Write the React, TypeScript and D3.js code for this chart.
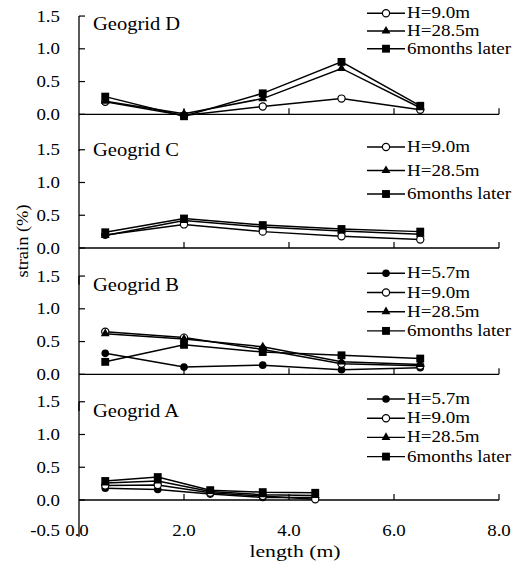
import * as d3 from "d3";

// series (legend order) and marker style
const seriesNames = ["H=5.7m", "H=9.0m", "H=28.5m", "6months later"];
const xTicks = [0, 2, 4, 6, 8];
const xTickLabels = ["0.0", "2.0", "4.0", "6.0", "8.0"];
const yTicks = [0, 0.5, 1.0, 1.5];

const lengthsA = [0.5, 1.5, 2.5, 3.5, 4.5];
const lengthsBCD = [0.5, 2.0, 3.5, 5.0, 6.5];

// Geogrid D
const dH90 = [0.19, -0.02, 0.12, 0.24, 0.07];
const dH285 = [0.2, 0.01, 0.24, 0.7, 0.1];
const d6m = [0.27, -0.03, 0.32, 0.8, 0.13];
// Geogrid C
const cH90 = [0.2, 0.36, 0.25, 0.18, 0.13];
const cH285 = [0.19, 0.42, 0.32, 0.26, 0.21];
const c6m = [0.24, 0.45, 0.35, 0.29, 0.25];
// Geogrid B
const bH57 = [0.32, 0.11, 0.14, 0.07, 0.1];
const bH90 = [0.65, 0.56, 0.38, 0.16, 0.13];
const bH285 = [0.62, 0.54, 0.42, 0.19, 0.15];
const b6m = [0.19, 0.45, 0.34, 0.29, 0.24];
// Geogrid A
const aH57 = [0.18, 0.16, 0.09, 0.04, 0.04];
const aH90 = [0.22, 0.23, 0.11, 0.06, 0.01];
const aH285 = [0.26, 0.29, 0.13, 0.08, 0.07];
const a6m = [0.29, 0.35, 0.15, 0.12, 0.11];

const panels = [
  { name: "Geogrid D", x: lengthsBCD, series: [null, dH90, dH285, d6m] },
  { name: "Geogrid C", x: lengthsBCD, series: [null, cH90, cH285, c6m] },
  { name: "Geogrid B", x: lengthsBCD, series: [bH57, bH90, bH285, b6m] },
  { name: "Geogrid A", x: lengthsA, series: [aH57, aH90, aH285, a6m] },
];

// layout (pixels)
const zeroY = [114.3, 248, 374.3, 500];
const legendGap = [17.7, 23.5, 19.2, 19.2];
const titleOffset = [-90, -98, -89, -89];
const unit = 65.5;
const left = 79, right = 499;

const x = d3.scaleLinear().domain([0, 8]).range([left, right]);

function Marker({ kind, cx, cy }: { kind: number; cx: number; cy: number }) {
  if (kind === 0) return <circle cx={cx} cy={cy} r={3.8} fill="#000" />;
  if (kind === 1) return <circle cx={cx} cy={cy} r={3.6} fill="#fff" stroke="#000" strokeWidth={1.2} />;
  const type = kind === 2 ? d3.symbolTriangle : d3.symbolSquare;
  const size = kind === 2 ? 34 : 62;
  const d = d3.symbol().type(type).size(size)()!;
  return <path d={d} transform={`translate(${cx},${cy})`} fill="#000" />;
}

// text stretched horizontally like the scanned original
function Label(props: { x: number; y: number; size: number; sx: number; anchor?: string; rotate?: number; children: any }) {
  const rot = props.rotate ? ` rotate(${props.rotate})` : "";
  return (
    <text
      transform={`translate(${props.x},${props.y})${rot} scale(${props.sx},1)`}
      textAnchor={props.anchor || "start"}
      fontSize={props.size}
      style={{ fontFamily: "Liberation Serif" }}
    >
      {props.children}
    </text>
  );
}

function Panel({ idx }: { idx: number }) {
  const p = panels[idx];
  const z = zeroY[idx];
  const y = d3.scaleLinear().domain([-0.5, 1.5]).range([z + 0.5 * unit, z - 1.5 * unit]);
  const line = d3.line<[number, number]>().x(d => x(d[0])).y(d => y(d[1]));
  const legendItems = seriesNames.map((n, i) => ({ n, i })).filter(s => p.series[s.i]);
  const isLast = idx === panels.length - 1;
  return (
    <g>
      {/* y axis */}
      <line x1={left} x2={left} y1={y(-0.56)} y2={y(1.5)} stroke="#000" strokeWidth={1.3} />
      {yTicks.map(t => (
        <g key={t}>
          <line x1={left} x2={left + 6} y1={y(t)} y2={y(t)} stroke="#000" strokeWidth={1.2} />
          <Label x={60} y={y(t) + 5.5} anchor="end" size={16} sx={1.18}>
            {t.toFixed(1)}
          </Label>
        </g>
      ))}
      {isLast && (
        <Label x={60} y={y(-0.5) + 3} anchor="end" size={16} sx={1.18}>
          -0.5
        </Label>
      )}
      {/* x axis */}
      <line x1={left} x2={right} y1={y(0)} y2={y(0)} stroke="#000" strokeWidth={1.3} />
      {xTicks.slice(1).map(t => (
        <line key={t} x1={x(t)} x2={x(t)} y1={y(0)} y2={y(0) - 6} stroke="#000" strokeWidth={1.2} />
      ))}
      <Label x={93} y={z + titleOffset[idx] + 6} size={18} sx={1.14}>
        {p.name}
      </Label>
      {/* series */}
      {p.series.map((vals, si) =>
        vals ? (
          <g key={si}>
            <path d={line(vals.map((v, k) => [p.x[k], v] as [number, number]))!} fill="none" stroke="#000" strokeWidth={1.5} />
            {vals.map((v, k) => (
              <Marker key={k} kind={si} cx={x(p.x[k])} cy={y(v)} />
            ))}
          </g>
        ) : null
      )}
      {/* legend */}
      {legendItems.map((s, r) => {
        const ly = z - 101 + r * legendGap[idx];
        return (
          <g key={s.n}>
            <line x1={367} x2={405} y1={ly} y2={ly} stroke="#000" strokeWidth={1.4} />
            <Marker kind={s.i} cx={386} cy={ly} />
            <Label x={407} y={ly + 5} size={16} sx={1.19}>
              {s.n}
            </Label>
          </g>
        );
      })}
    </g>
  );
}

export default function App() {
  return (
    <svg width={530} height={563} style={{ position: "absolute", left: 0, top: 0, background: "#fff" }}>
      <rect width={530} height={563} fill="#fff" />
      {panels.map((_, i) => (
        <Panel key={i} idx={i} />
      ))}
      {xTicks.map((t, i) => (
        <Label key={t} x={x(t) - (i === 0 ? 2 : 0)} y={536} anchor="middle" size={16} sx={1.18}>
          {xTickLabels[i]}
        </Label>
      ))}
      <Label x={295} y={557} anchor="middle" size={17} sx={1.28}>
        length (m)
      </Label>
      <Label x={28} y={241} rotate={-90} anchor="middle" size={16} sx={1.15}>
        strain (%)
      </Label>
    </svg>
  );
}
